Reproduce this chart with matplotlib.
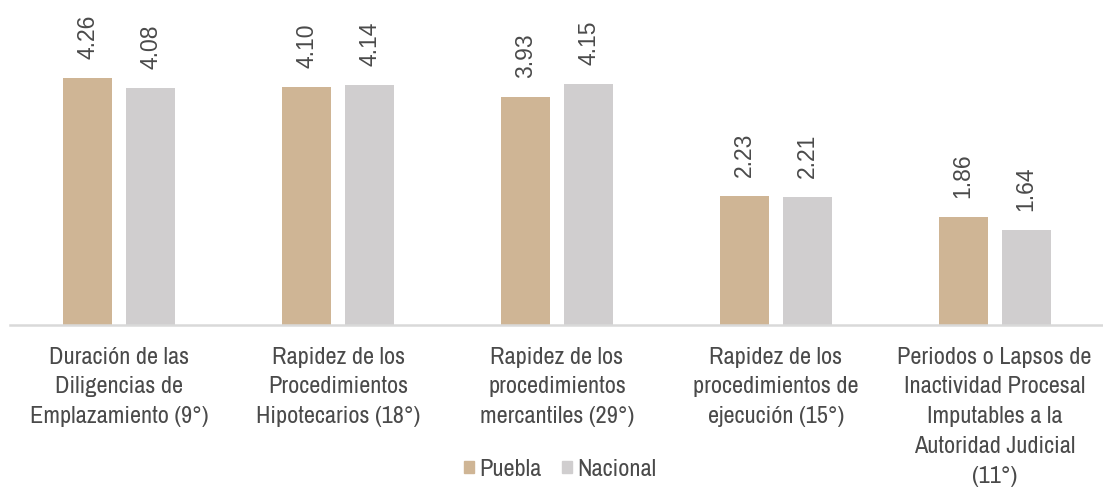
import matplotlib.pyplot as plt
from matplotlib.patches import Patch
import numpy as np

categories = [
    "Duración de las\nDiligencias de\nEmplazamiento (9°)",
    "Rapidez de los\nProcedimientos\nHipotecarios (18°)",
    "Rapidez de los\nprocedimientos\nmercantiles (29°)",
    "Rapidez de los\nprocedimientos de\nejecución (15°)",
    "Periodos o Lapsos de\nInactividad Procesal\nImputables a la\nAutoridad Judicial\n(11°)",
]
puebla = [4.26, 4.10, 3.93, 2.23, 1.86]
nacional = [4.08, 4.14, 4.15, 2.21, 1.64]
series_names = ["Puebla", "Nacional"]
colors = ["#CFB595", "#D0CECF"]

narrow = ['Liberation Sans Narrow', 'Archivo Narrow', 'Liberation Sans', 'DejaVu Sans']
regular = ['Liberation Sans', 'DejaVu Sans']
text_color = '#4A4A4A'

W, H = 1103, 491
fig = plt.figure(figsize=(W / 100, H / 100), dpi=100)
ax = fig.add_axes([10 / W, (H - 325) / H, 1094 / W, 290 / H])

x = np.arange(len(categories))
bw = 0.224
gap = 0.064
off = (bw + gap) / 2
for vals, name, col, sgn in [(puebla, series_names[0], colors[0], -1),
                              (nacional, series_names[1], colors[1], 1)]:
    bars = ax.bar(x + sgn * off, vals, width=bw, color=col, label=name)
    for b, v in zip(bars, vals):
        ax.text(b.get_x() + b.get_width() / 2, v + 0.33, f"{v:.2f}",
                rotation=90, ha='center', va='bottom', fontsize=16.5,
                color=text_color, family=regular)

ax.set_xlim(-0.5, len(categories) - 0.5)
ax.set_ylim(0, 5)
for s in ['top', 'right', 'left']:
    ax.spines[s].set_visible(False)
ax.spines['bottom'].set_color('#D9D9D9')
ax.spines['bottom'].set_linewidth(1.8)
ax.set_yticks([])
ax.set_xticks(x)
ax.set_xticklabels(categories, fontsize=17.5, color=text_color, linespacing=1.52,
                   family=narrow)
ax.tick_params(axis='x', length=0, pad=15.5)

handles = [Patch(color=c) for c in colors]
fig.legend(handles, series_names, loc='center', bbox_to_anchor=(560 / W, 1 - 469 / H),
           ncol=2, frameon=False, prop={'family': narrow, 'size': 17.5},
           handlelength=0.42, handleheight=0.42, handletextpad=0.2,
           columnspacing=0.85, labelcolor=text_color)

fig.savefig("out.png", dpi=100)
